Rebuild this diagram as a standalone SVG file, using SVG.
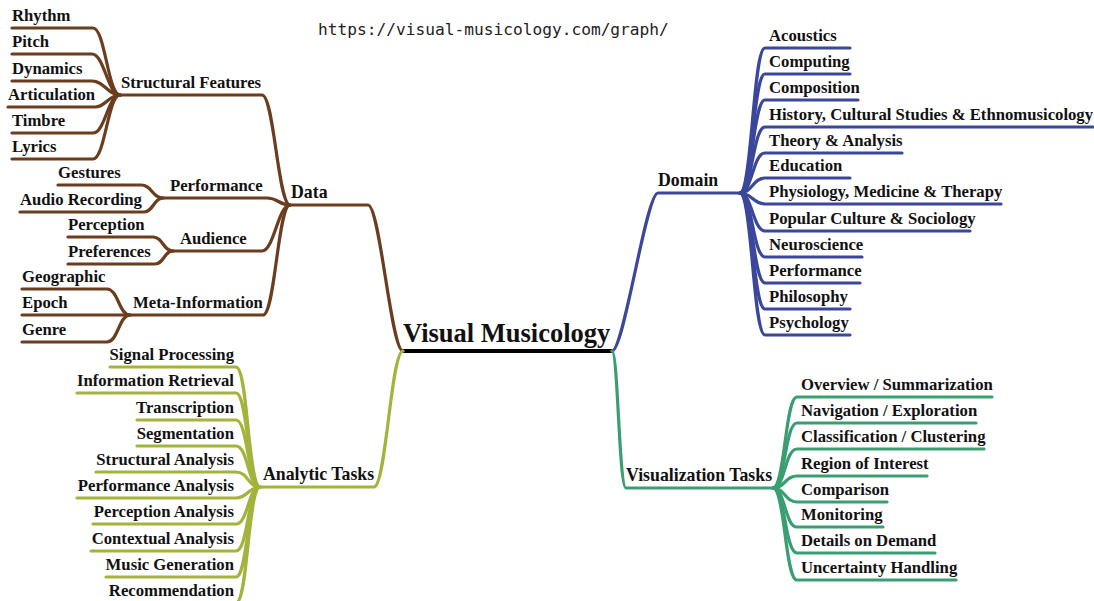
<svg xmlns="http://www.w3.org/2000/svg" width="1094" height="601" viewBox="0 0 1094 601">
<style>
text{font-family:"Liberation Serif","Times New Roman","DejaVu Serif",serif;font-weight:bold;font-size:16.7px;fill:#111}
.url{font-family:"DejaVu Sans Mono","Liberation Mono",monospace;font-weight:normal;font-size:16.2px;fill:#222}
.title{font-size:26.5px}
.l1{font-size:17.8px}
.r{text-anchor:end}
path{fill:none;stroke-width:3.2;stroke-linecap:round}
.br{stroke:#6b3d1f}.ol{stroke:#a3b33c}.bl{stroke:#3a479b}.gr{stroke:#3a9e72}.bk{stroke:#000;stroke-width:4}
</style>
<rect width="1094" height="601" fill="#fff"/>
<g id="connectors">
<path class="bk" d="M403,351 H612"/>
<path class="br" d="M290,205 H368 C380,205 391,351 403,351"/>
<path class="br" d="M120,95 H262 C274,95 278,205 290,205"/>
<path class="br" d="M12,28 H93 C105,28 108,95 120,95"/>
<path class="br" d="M12,54 H92 C104,54 108,95 120,95"/>
<path class="br" d="M12,81 H92 C104,81 108,95 120,95"/>
<path class="br" d="M8,107 H95 C106,107 108,95 120,95"/>
<path class="br" d="M12,133 H93 C105,133 108,95 120,95"/>
<path class="br" d="M12,159 H93 C105,159 108,95 120,95"/>
<path class="br" d="M163,198 H267 C278,198 279,205 290,205"/>
<path class="br" d="M58,185 H141 C152,185 152,198 163,198"/>
<path class="br" d="M20,212 H144 C153,212 154,198 163,198"/>
<path class="br" d="M173,251 H262 C274,251 278,205 290,205"/>
<path class="br" d="M68,237 H153 C163,237 163,251 173,251"/>
<path class="br" d="M68,264 H155 C164,264 164,251 173,251"/>
<path class="br" d="M130,315 H263 C275,315 278,205 290,205"/>
<path class="br" d="M22,289 H107 C118,289 119,315 130,315"/>
<path class="br" d="M22,315 H130"/>
<path class="br" d="M22,342 H107 C118,342 119,315 130,315"/>
<path class="ol" d="M260,487 H374 C386,487 391,351 403,351"/>
<path class="ol" d="M110,367 H236 C248,367 248,487 260,487"/>
<path class="ol" d="M77,393 H236 C248,393 248,487 260,487"/>
<path class="ol" d="M137,420 H236 C248,420 248,487 260,487"/>
<path class="ol" d="M137,446 H236 C248,446 248,487 260,487"/>
<path class="ol" d="M96,472 H236 C248,472 248,487 260,487"/>
<path class="ol" d="M77,498 H236 C248,498 248,487 260,487"/>
<path class="ol" d="M93,524 H236 C248,524 248,487 260,487"/>
<path class="ol" d="M91,551 H236 C248,551 248,487 260,487"/>
<path class="ol" d="M106,577 H236 C248,577 248,487 260,487"/>
<path class="ol" d="M109,603 H236 C248,603 248,487 260,487"/>
<path class="bl" d="M740,193 H658 C646,193 624,351 612,351"/>
<path class="bl" d="M850,48 H765 C753,48 752,193 740,193"/>
<path class="bl" d="M850,74 H765 C753,74 752,193 740,193"/>
<path class="bl" d="M858,100 H765 C753,100 752,193 740,193"/>
<path class="bl" d="M1093,127 H765 C753,127 752,193 740,193"/>
<path class="bl" d="M902,153 H765 C753,153 752,193 740,193"/>
<path class="bl" d="M850,178 H765 C753,178 752,193 740,193"/>
<path class="bl" d="M1001,204 H765 C753,204 752,193 740,193"/>
<path class="bl" d="M970,231 H765 C753,231 752,193 740,193"/>
<path class="bl" d="M862,257 H765 C753,257 752,193 740,193"/>
<path class="bl" d="M860,283 H765 C753,283 752,193 740,193"/>
<path class="bl" d="M850,309 H765 C753,309 752,193 740,193"/>
<path class="bl" d="M850,335 H765 C753,335 752,193 740,193"/>
<path class="gr" d="M773,488 H626 C619,488 618,351 612,351"/>
<path class="gr" d="M992,397 H797 C785,397 785,488 773,488"/>
<path class="gr" d="M976,423 H797 C785,423 785,488 773,488"/>
<path class="gr" d="M984,449 H797 C785,449 785,488 773,488"/>
<path class="gr" d="M927,476 H797 C785,476 785,488 773,488"/>
<path class="gr" d="M887,502 H797 C785,502 785,488 773,488"/>
<path class="gr" d="M883,527 H797 C785,527 785,488 773,488"/>
<path class="gr" d="M935,553 H797 C785,553 785,488 773,488"/>
<path class="gr" d="M956,580 H797 C785,580 785,488 773,488"/>
</g>
<text class="url" x="318" y="35">https://visual-musicology.com/graph/</text>
<g id="n-root"><text class="title" x="403" y="342">Visual Musicology</text></g>
<g id="n-data"><text class="l1" x="291" y="198">Data</text></g>
<g id="n-structural"><text x="121" y="88">Structural Features</text></g>
<g id="n-rhythm"><text x="12" y="21">Rhythm</text></g>
<g id="n-pitch"><text x="12" y="47">Pitch</text></g>
<g id="n-dynamics"><text x="12" y="74">Dynamics</text></g>
<g id="n-articulation"><text x="8" y="100">Articulation</text></g>
<g id="n-timbre"><text x="12" y="126">Timbre</text></g>
<g id="n-lyrics"><text x="12" y="152">Lyrics</text></g>
<g id="n-performance"><text x="170" y="191">Performance</text></g>
<g id="n-gestures"><text x="58" y="178">Gestures</text></g>
<g id="n-audio"><text x="20" y="205">Audio Recording</text></g>
<g id="n-audience"><text x="180" y="244">Audience</text></g>
<g id="n-perception"><text x="68" y="230">Perception</text></g>
<g id="n-preferences"><text x="68" y="257">Preferences</text></g>
<g id="n-meta"><text x="133" y="308">Meta-Information</text></g>
<g id="n-geographic"><text x="22" y="282">Geographic</text></g>
<g id="n-epoch"><text x="22" y="308">Epoch</text></g>
<g id="n-genre"><text x="22" y="335">Genre</text></g>
<g id="n-analytic"><text class="l1" x="263" y="480">Analytic Tasks</text></g>
<g id="n-signal"><text class="r" x="234" y="360">Signal Processing</text></g>
<g id="n-ir"><text class="r" x="234" y="386">Information Retrieval</text></g>
<g id="n-transcription"><text class="r" x="234" y="413">Transcription</text></g>
<g id="n-segmentation"><text class="r" x="234" y="439">Segmentation</text></g>
<g id="n-structana"><text class="r" x="234" y="465">Structural Analysis</text></g>
<g id="n-perfana"><text class="r" x="234" y="491">Performance Analysis</text></g>
<g id="n-percana"><text class="r" x="234" y="517">Perception Analysis</text></g>
<g id="n-context"><text class="r" x="234" y="544">Contextual Analysis</text></g>
<g id="n-musicgen"><text class="r" x="234" y="570">Music Generation</text></g>
<g id="n-recommend"><text class="r" x="234" y="596">Recommendation</text></g>
<g id="n-domain"><text class="l1" x="658" y="186">Domain</text></g>
<g id="n-acoustics"><text x="769" y="41">Acoustics</text></g>
<g id="n-computing"><text x="769" y="67">Computing</text></g>
<g id="n-composition"><text x="769" y="93">Composition</text></g>
<g id="n-history"><text x="769" y="120">History, Cultural Studies &amp; Ethnomusicology</text></g>
<g id="n-theory"><text x="769" y="146">Theory &amp; Analysis</text></g>
<g id="n-education"><text x="769" y="171">Education</text></g>
<g id="n-physiology"><text x="769" y="197">Physiology, Medicine &amp; Therapy</text></g>
<g id="n-popular"><text x="769" y="224">Popular Culture &amp; Sociology</text></g>
<g id="n-neuro"><text x="769" y="250">Neuroscience</text></g>
<g id="n-dperformance"><text x="769" y="276">Performance</text></g>
<g id="n-philosophy"><text x="769" y="302">Philosophy</text></g>
<g id="n-psychology"><text x="769" y="328">Psychology</text></g>
<g id="n-vistasks"><text class="l1" x="626" y="481">Visualization Tasks</text></g>
<g id="n-overview"><text x="801" y="390">Overview / Summarization</text></g>
<g id="n-navigation"><text x="801" y="416">Navigation / Exploration</text></g>
<g id="n-classification"><text x="801" y="442">Classification / Clustering</text></g>
<g id="n-region"><text x="801" y="469">Region of Interest</text></g>
<g id="n-comparison"><text x="801" y="495">Comparison</text></g>
<g id="n-monitoring"><text x="801" y="520">Monitoring</text></g>
<g id="n-details"><text x="801" y="546">Details on Demand</text></g>
<g id="n-uncertainty"><text x="801" y="573">Uncertainty Handling</text></g>
</svg>
